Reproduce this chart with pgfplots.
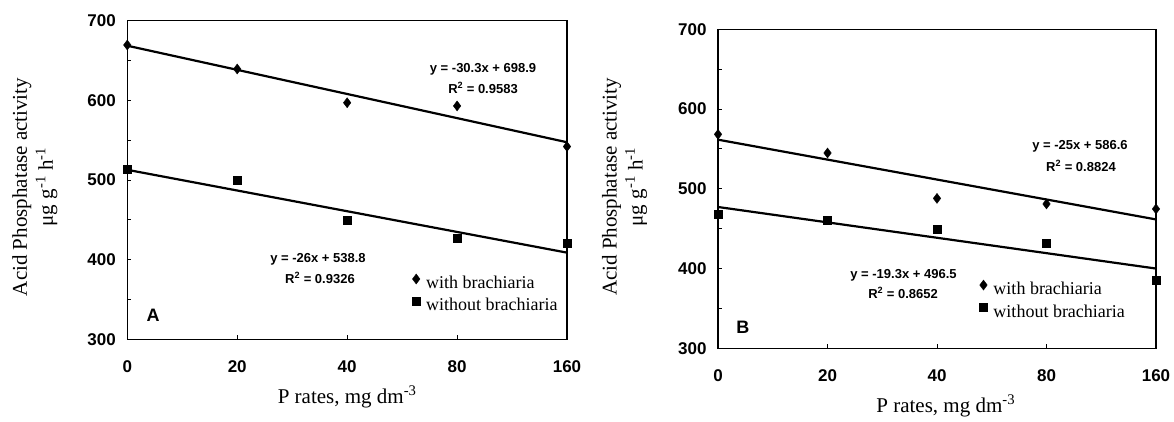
\documentclass[border=0pt]{standalone}
\usepackage{fontspec}
\setmainfont{Liberation Serif}
\setsansfont{Liberation Sans}
\usepackage{pgfplots}
\pgfplotsset{compat=1.18}

\pgfplotsset{
  panel/.style={
    scale only axis,
    xmin=0, xmax=4, ymin=300, ymax=700,
    xtick={0,...,4}, xticklabels={0,20,40,80,160},
    ytick={300,400,...,700}, minor y tick num=1,
    tick align=inside, xtick pos=bottom, ytick pos=left,
    major tick length=4pt, minor tick length=4pt,
    axis line style={line width=1.1pt},
    every tick/.style={black, line width=0.9pt},
    /pgf/number format/assume math mode=true,
    ticklabel style={font=\sffamily\bfseries\fontsize{17}{17}\selectfont},
    yticklabel style={xshift=-8pt},
    xticklabel style={anchor=center, yshift=-27pt},
    label style={font=\fontsize{21}{26}\selectfont},
    ylabel={Acid Phosphatase activity\\μg g\textsuperscript{-1} h\textsuperscript{-1}},
    xlabel={P rates, mg dm\textsuperscript{-3}},
    legend style={draw=none, fill=none, anchor=north west, inner sep=0pt, outer sep=0pt,
      font=\fontsize{18}{18}\selectfont,
      nodes={inner sep=0pt, text height=13pt, text depth=4pt},
      row sep=5pt, /tikz/every odd column/.append style={column sep=6pt}},
    legend cell align=left,
    legend image code/.code={\draw[##1] plot coordinates {(0pt,5pt)};},
  },
}
\tikzset{
  eq/.style={font=\sffamily\bfseries\fontsize{13}{13}\selectfont, inner sep=0pt},
  letter/.style={font=\sffamily\bfseries\fontsize{18}{18}\selectfont, inner sep=0pt},
}

\begin{document}
\begin{tikzpicture}
\useasboundingbox (0,0) rectangle (1174pt,421pt);

% panel A
\begin{axis}[panel,
  at={(127.3pt,81.7pt)}, anchor=south west,
  width=439.7pt, height=318.6pt,
  ylabel style={at={(axis description cs:-0.21,0.478)}, anchor=center, align=center},
  xlabel style={at={(axis description cs:0.5,-0.181)}, anchor=center},
  legend style={at={(axis description cs:0.648,0.205)}}]
\addplot[only marks, mark=diamond*, mark size=5pt] coordinates {(0,669.5) (1,639.4) (2,597) (3,593) (4,542)};
\addlegendentry{with brachiaria}
\addplot[only marks, mark=square*, mark size=4pt] coordinates {(0,513.4) (1,500) (2,449.8) (3,426.8) (4,420.5)};
\addlegendentry{without brachiaria}
\addplot[forget plot, no marks, line width=2.2pt] coordinates {(0,668.6) (4,547.4)};
\addplot[forget plot, no marks, line width=2.2pt] coordinates {(0,512.8) (4,408.8)};
\node[eq] at (axis cs:3.236,639.4) {y = -30.3x + 698.9};
\node[eq] at (axis cs:3.236,615.5) {R\textsuperscript{2} = 0.9583};
\node[eq] at (axis cs:1.735,400.8) {y = -26x + 538.8};
\node[eq] at (axis cs:1.753,377) {R\textsuperscript{2} = 0.9326};
\node[letter] at (axis cs:0.234,330.5) {A};
\end{axis}

% panel B
\begin{axis}[panel,
  at={(718pt,72.7pt)}, anchor=south west,
  width=438pt, height=319pt,
  ylabel style={at={(axis description cs:-0.2135,0.506)}, anchor=center, align=center},
  xlabel style={at={(axis description cs:0.52,-0.181)}, anchor=center},
  legend style={at={(axis description cs:0.597,0.214)}}]
\addplot[only marks, mark=diamond*, mark size=5pt] coordinates {(0,568.3) (1,544.9) (2,488) (3,481) (4,474.7)};
\addlegendentry{with brachiaria}
\addplot[only marks, mark=square*, mark size=4pt] coordinates {(0,468.4) (1,460.5) (2,449.2) (3,432.4) (4,385.6)};
\addlegendentry{without brachiaria}
\addplot[forget plot, no marks, line width=2.2pt] coordinates {(0,561.6) (4,461.6)};
\addplot[forget plot, no marks, line width=2.2pt] coordinates {(0,477.2) (4,400)};
\node[eq] at (axis cs:3.306,553.7) {y = -25x + 586.6};
\node[eq] at (axis cs:3.315,528.6) {R\textsuperscript{2} = 0.8824};
\node[eq] at (axis cs:1.694,391.9) {y = -19.3x + 496.5};
\node[eq] at (axis cs:1.69,369.3) {R\textsuperscript{2} = 0.8652};
\node[letter] at (axis cs:0.228,326.7) {B};
\end{axis}
\end{tikzpicture}
\end{document}
